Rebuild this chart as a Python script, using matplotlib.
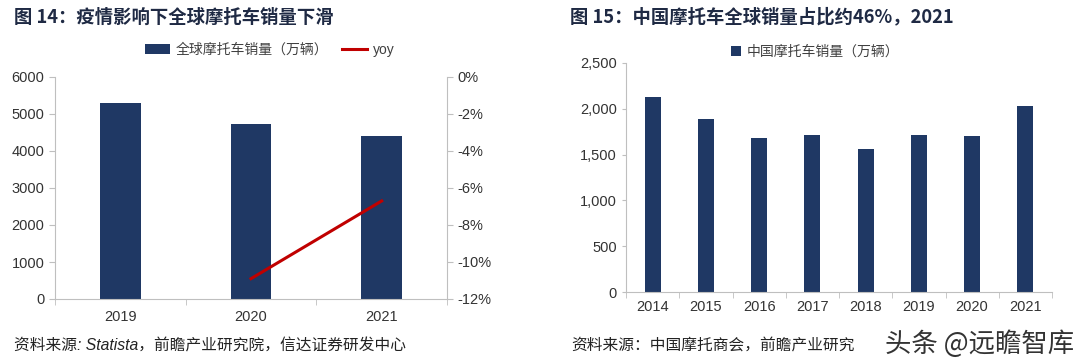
import matplotlib.pyplot as plt
from matplotlib.ticker import FuncFormatter, FixedLocator

plt.rcParams['font.family'] = ['Liberation Sans', 'Noto Sans CJK SC']

# left chart data
years_l = ['2019', '2020', '2021']
sales_global = [5305, 4730, 4397]
yoy_years = [1, 2]
yoy = [-10.9, -6.7]

# right chart data
years_r = ['2014', '2015', '2016', '2017', '2018', '2019', '2020', '2021']
sales_china = [2132, 1888, 1683, 1713, 1560, 1713, 1705, 2027]

navy = '#1F3864'
red = '#C00000'
grey = '#BFBFBF'
txt = '#333333'

W, H = 1080, 364
fig = plt.figure(figsize=(W / 100, H / 100), dpi=100)


def px_axes(x0, y0, x1, y1):
    return fig.add_axes([x0 / W, 1 - y1 / H, (x1 - x0) / W, (y1 - y0) / H])


def style(ax, n):
    for s in ['top', 'right']:
        ax.spines[s].set_visible(False)
    for s in ['left', 'bottom']:
        ax.spines[s].set_color(grey)
    ax.set_xlim(-0.5, n - 0.5)
    ax.xaxis.set_minor_locator(FixedLocator([i - 0.5 for i in range(n + 1)]))
    ax.tick_params(axis='x', which='major', length=0, labelsize=10.5, colors=txt, pad=8)
    ax.tick_params(axis='x', which='minor', length=4, color=grey)
    ax.tick_params(axis='y', length=4, color=grey, labelsize=10.5, labelcolor=txt)


# ---- left chart
ax1 = px_axes(55, 77, 447, 299)
b1 = ax1.bar(range(len(years_l)), sales_global, width=0.31, color=navy, label='全球摩托车销量（万辆）')
ax1.set_ylim(0, 6000)
ax1.set_yticks(range(0, 6001, 1000))
ax1.set_xticks(range(len(years_l)))
ax1.set_xticklabels(years_l)
style(ax1, len(years_l))

ax2 = ax1.twinx()
l1, = ax2.plot(yoy_years, yoy, color=red, lw=2.2, label='yoy')
ax2.set_ylim(-12, 0)
ax2.set_yticks(range(-12, 1, 2))
ax2.yaxis.set_major_formatter(FuncFormatter(lambda v, p: f'{int(v)}%'))
for s in ['top', 'left', 'bottom']:
    ax2.spines[s].set_visible(False)
ax2.spines['right'].set_color(grey)
ax2.tick_params(axis='y', length=4, color=grey, labelsize=10.5, labelcolor=txt)

fig.legend([b1, l1], ['全球摩托车销量（万辆）', 'yoy'], loc='center', ncol=2,
           bbox_to_anchor=(270 / W, 1 - 50 / H), frameon=False, fontsize=10,
           labelcolor='#404040', handlelength=1.8, handletextpad=0.4, columnspacing=1.0)

fig.text(14 / W, 1 - 17 / H, '图 14：疫情影响下全球摩托车销量下滑', fontsize=13.2,
         fontweight='bold', color='#1F2A44', va='center', family=['Noto Sans CJK SC', 'DejaVu Sans'])
fig.text(14 / W, 1 - 346 / H, '资料来源: Statista，前瞻产业研究院，信达证券研发中心', fontsize=11.3,
         style='italic', color='#222222', va='center')

# ---- right chart
ax3 = px_axes(626, 63, 1052, 292)
b3 = ax3.bar(range(len(years_r)), sales_china, width=0.3, color=navy, label='中国摩托车销量（万辆）')
ax3.set_ylim(0, 2500)
ax3.set_yticks(range(0, 2501, 500))
ax3.yaxis.set_major_formatter(FuncFormatter(lambda v, p: f'{int(v):,}'))
ax3.set_xticks(range(len(years_r)))
ax3.set_xticklabels(years_r)
style(ax3, len(years_r))
ax3.tick_params(axis='x', which='major', pad=6)
ax3.tick_params(axis='y', length=3)

fig.legend([b3], ['中国摩托车销量（万辆）'], loc='center', bbox_to_anchor=(815 / W, 1 - 52 / H),
           frameon=False, fontsize=10, labelcolor='#404040', handlelength=0.7, handleheight=0.7,
           handletextpad=0.4)

fig.text(570 / W, 1 - 17 / H, '图 15：中国摩托车全球销量占比约46%，2021', fontsize=13.2,
         fontweight='bold', color='#1F2A44', va='center', family=['Noto Sans CJK SC', 'DejaVu Sans'])
# the rest of the source line is hidden under the watermark in the original
fig.text(571 / W, 1 - 346 / H, '资料来源：中国摩托商会，前瞻产业研究', fontsize=11.3,
         style='italic', color='#222222', va='center')
fig.text(1074 / W, 1 - 344 / H, '头条 @远瞻智库', fontsize=19, color='#333333', va='center',
         ha='right', family=['Noto Sans CJK SC', 'DejaVu Sans'])

fig.savefig('out.png', dpi=100)
